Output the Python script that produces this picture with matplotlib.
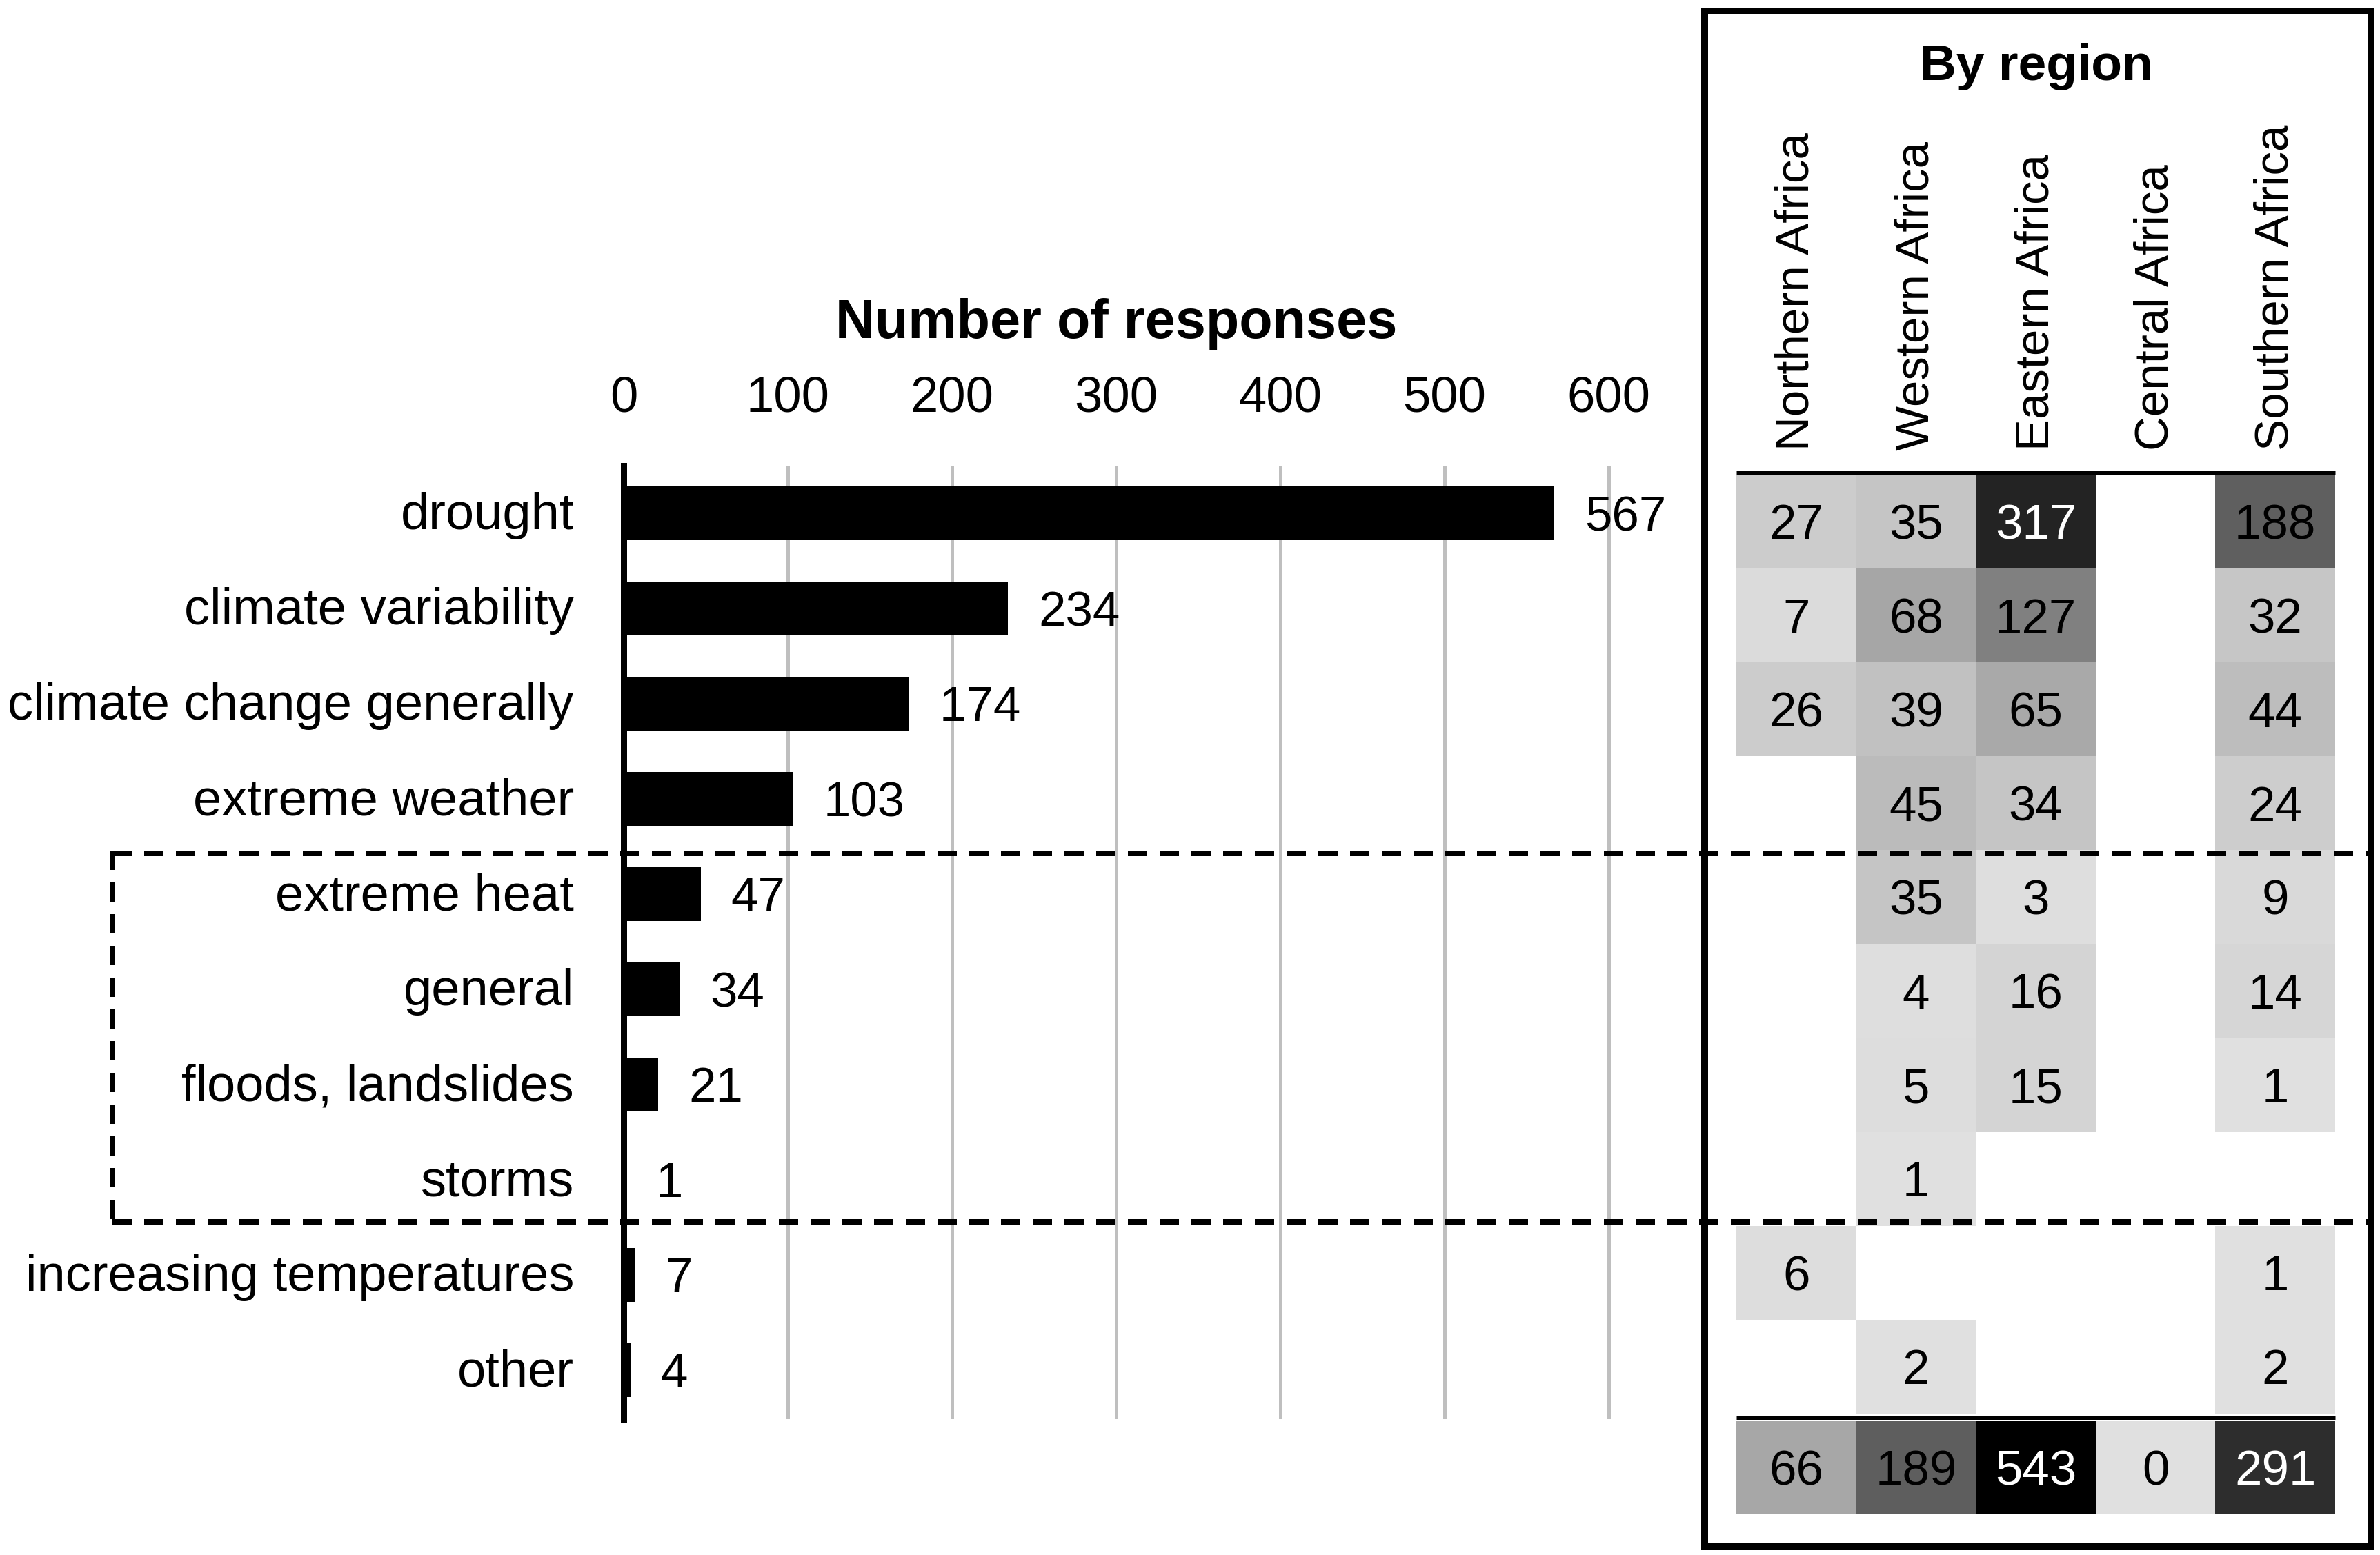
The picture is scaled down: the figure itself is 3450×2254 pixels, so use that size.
import matplotlib
matplotlib.use('Agg')
import matplotlib.pyplot as plt
import numpy as np
from matplotlib.colors import LinearSegmentedColormap, Normalize
from matplotlib.lines import Line2D
from matplotlib.patches import Rectangle
import matplotlib.transforms as mtransforms

# ---------------- data ----------------
categories = ["drought", "climate variability", "climate change generally", "extreme weather",
              "extreme heat", "general", "floods, landslides", "storms",
              "increasing temperatures", "other"]
responses = [567, 234, 174, 103, 47, 34, 21, 1, 7, 4]
xticks = [0, 100, 200, 300, 400, 500, 600]

regions = ["Northern Africa", "Western Africa", "Eastern Africa", "Central Africa", "Southern Africa"]
nan = np.nan
northern = [27, 7, 26, nan, nan, nan, nan, nan, 6, nan]
western = [35, 68, 39, 45, 35, 4, 5, 1, nan, 2]
eastern = [317, 127, 65, 34, 3, 16, 15, nan, nan, nan]
central = [nan, nan, nan, nan, nan, nan, nan, nan, nan, nan]
southern = [188, 32, 44, 24, 9, 14, 1, nan, 1, 2]
region_totals = [66, 189, 543, 0, 291]

# ---------------- layout helpers ----------------
W, H = 3450, 2254
DPI = 300
plt.rcParams['font.family'] = ['Liberation Sans', 'DejaVu Sans']
fig = plt.figure(figsize=(W / DPI, H / DPI), dpi=DPI)


def fx(x):
    return x / W


def fy(y):
    return 1 - y / H


def pt(p):
    return p * 72 / DPI


# grey scale used for the cells (value -> grey level)
nodes = [(0, 224), (35, 196), (66, 167), (127, 127), (188, 95), (291, 45), (317, 35), (543, 0)]
vmax = 543
cmap = LinearSegmentedColormap.from_list(
    "greys_custom", [(v / vmax, (g / 255, g / 255, g / 255)) for v, g in nodes])
cmap.set_bad((1, 1, 1, 0))
norm = Normalize(0, vmax)

# ---------------- bar chart ----------------
bx0 = 904
px_per_unit = 2.38
xmax = 640
by0, by1 = 675, 2057
row0, row_px = 744, 138
axb = fig.add_axes([fx(bx0), fy(by1), (xmax * px_per_unit) / W, (by1 - by0) / H])
ypos = np.arange(len(categories))
axb.barh(ypos, responses, height=78 / row_px, color='black', zorder=3)
axb.set_xlim(0, xmax)
axb.set_ylim((by1 - row0) / row_px, -(row0 - by0) / row_px)
for s in ['top', 'right', 'bottom']:
    axb.spines[s].set_visible(False)
axb.spines['left'].set_linewidth(pt(9))
axb.spines['left'].set_zorder(4)
axb.xaxis.tick_top()
axb.set_xticks(xticks)
axb.set_xticklabels([str(t) for t in xticks])
axb.tick_params(axis='x', length=0, pad=pt(64), labelsize=17.4)
axb.set_yticks([])
axb.xaxis.grid(True, color='#bfbfbf', lw=pt(5))
axb.set_axisbelow(True)

fs_cat = 17.8
fs_val = 17
for i, (c, v) in enumerate(zip(categories, responses)):
    axb.annotate(c, (0, i), xytext=(-pt(72), -pt(23)), textcoords='offset points',
                 ha='right', va='baseline', fontsize=fs_cat, annotation_clip=False)
    axb.annotate(str(v), (v, i), xytext=(pt(44), -0.358 * fs_val),
                 textcoords='offset points', ha='left', va='baseline', fontsize=fs_val,
                 annotation_clip=False)

fig.text(fx(1618), fy(490), "Number of responses", ha='center', va='baseline',
         fontsize=19, fontweight='bold')

# ---------------- heat map ----------------
hx0, hx1 = 2517, 3385
hy0, hy1 = 688, 2194
hrow = 136.1
axh = fig.add_axes([fx(hx0), fy(hy1), (hx1 - hx0) / W, (hy1 - hy0) / H])
ymax_h = -0.5 + (hy1 - hy0) / hrow
axh.set_xlim(-0.5, 4.5)
axh.set_ylim(ymax_h, -0.5)
axh.axis('off')

table = np.array([northern, western, eastern, central, southern], dtype=float).T
mtable = np.ma.masked_invalid(table)
xe = np.arange(len(regions) + 1) - 0.5
ye = np.arange(len(categories) + 1) - 0.5
axh.pcolormesh(xe, ye, mtable, cmap=cmap, norm=norm, shading='flat')
tot_top = -0.5 + (2060 - hy0) / hrow
axh.pcolormesh(xe, [tot_top, ymax_h], np.array([region_totals], dtype=float),
               cmap=cmap, norm=norm, shading='flat')

fs_num = 17
for i in range(table.shape[0]):
    for j in range(table.shape[1]):
        v = table[i, j]
        if not np.isnan(v):
            axh.annotate(f"{int(v)}", (j, i), xytext=(0, -0.358 * fs_num),
                         textcoords='offset points', ha='center', va='baseline',
                         fontsize=fs_num, color='white' if v > 250 else 'black')
tot_mid = (tot_top + ymax_h) / 2
for j, v in enumerate(region_totals):
    axh.annotate(str(v), (j, tot_mid), xytext=(0, -0.358 * fs_num),
                 textcoords='offset points', ha='center', va='baseline',
                 fontsize=fs_num, color='white' if v > 250 else 'black')

# region labels (rotated), bottom aligned
tr = mtransforms.blended_transform_factory(axh.transData, fig.transFigure)
for j, r in enumerate(regions):
    fig.text(j, fy(653), r, transform=tr, rotation=90, ha='center', va='bottom',
             fontsize=16.6)

fig.text(fx(2952), fy(116), "By region", ha='center', va='baseline',
         fontsize=17.6, fontweight='bold')

# black rules above table and above totals
for yy in (685, 2055):
    fig.add_artist(Line2D([fx(hx0), fx(hx1)], [fy(yy), fy(yy)], transform=fig.transFigure,
                          color='black', lw=pt(7), solid_capstyle='butt', zorder=6))

# frame around the regional panel
fig.add_artist(Rectangle((fx(2471), fy(2242)), (3437 - 2471) / W, (2242 - 16) / H,
                         transform=fig.transFigure, fill=False, edgecolor='black',
                         lw=pt(10), zorder=7))

# dashed grouping box
dash = (0, (3.5, 2.25))
for yy in (1237, 1771):
    fig.add_artist(Line2D([fx(163), fx(3432)], [fy(yy), fy(yy)], transform=fig.transFigure,
                          color='black', lw=pt(8), linestyle=dash, dash_capstyle='butt',
                          zorder=8))
fig.add_artist(Line2D([fx(163), fx(163)], [fy(1233), fy(1771)], transform=fig.transFigure,
                      color='black', lw=pt(8), linestyle=dash, dash_capstyle='butt', zorder=8))

fig.savefig("out.png", dpi=DPI, facecolor='white')
